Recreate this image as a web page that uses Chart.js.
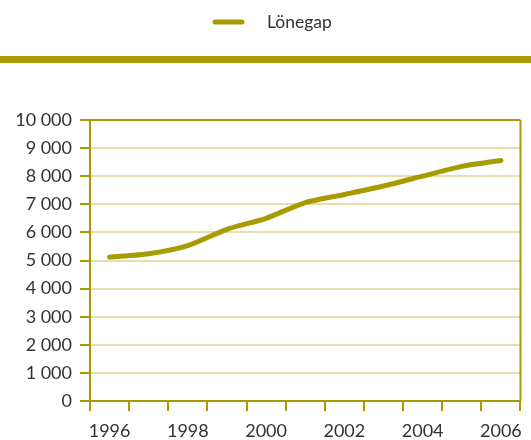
<!DOCTYPE html>
<html>
<head>
<meta charset="utf-8">
<script src="https://cdn.jsdelivr.net/npm/chart.js@4/dist/chart.umd.min.js"></script>
<style>
  html, body { margin: 0; padding: 0; background: #fff; }
  #wrap { width: 531px; height: 440px; }
</style>
</head>
<body>
<div id="wrap"><canvas id="c" width="531" height="440"></canvas></div>
<script>
const years = ['1996','1997','1998','1999','2000','2001','2002','2003','2004','2005','2006'];
const lonegap = [5120, 5240, 5530, 6110, 6500, 7060, 7350, 7650, 8000, 8350, 8560];
const seriesName = 'Lönegap';
const yTicks = [0,1000,2000,3000,4000,5000,6000,7000,8000,9000,10000];

const OLIVE = 'rgb(168,155,0)';
const LIGHT = 'rgb(230,222,174)';
const TEXT = '#333333';
const FONT = 'Lato';

const decor = {
  id: 'decor',
  beforeDraw(chart) {
    const ctx = chart.ctx;
    ctx.save();
    ctx.fillStyle = OLIVE;
    ctx.fillRect(0, 56, chart.width, 7);
    // legend
    ctx.strokeStyle = OLIVE;
    ctx.lineWidth = 5;
    ctx.lineCap = 'round';
    ctx.beginPath();
    ctx.moveTo(215, 22);
    ctx.lineTo(242, 22);
    ctx.stroke();
    ctx.fillStyle = TEXT;
    ctx.font = '17.5px ' + FONT;
    ctx.textBaseline = 'middle';
    ctx.textAlign = 'left';
    ctx.fillText(seriesName, 267, 22);
    ctx.restore();
  },
  afterDraw(chart) {
    const a = chart.chartArea;
    const ctx = chart.ctx;
    ctx.save();
    ctx.strokeStyle = OLIVE;
    ctx.lineWidth = 2;
    ctx.beginPath();
    ctx.moveTo(a.right, a.top);
    ctx.lineTo(a.right, a.bottom);
    ctx.stroke();
    ctx.restore();
  }
};

new Chart(document.getElementById('c'), {
  type: 'line',
  data: {
    labels: years,
    datasets: [{
      label: seriesName,
      data: lonegap,
      borderColor: OLIVE,
      backgroundColor: OLIVE,
      borderWidth: 5,
      borderCapStyle: 'round',
      borderJoinStyle: 'round',
      pointRadius: 0,
      tension: 0.25,
      fill: false
    }]
  },
  options: {
    responsive: false,
    animation: false,
    devicePixelRatio: 1,
    layout: { padding: { top: 120, left: 0, right: 5, bottom: 0 } },
    plugins: { legend: { display: false }, tooltip: { enabled: false } },
    scales: {
      x: {
        type: 'category',
        offset: true,
        afterFit(s) { s.height = 39; },
        grid: { offset: true, drawOnChartArea: false, color: OLIVE, tickColor: OLIVE, lineWidth: 2, tickLength: 10 },
        border: { display: true, color: OLIVE, width: 2 },
        ticks: {
          autoSkip: false, maxRotation: 0, padding: 9,
          color: TEXT, font: { family: FONT, size: 18 },
          callback(v, i) { return i % 2 === 0 ? years[i] : ''; }
        }
      },
      y: {
        min: 0, max: 10000,
        afterFit(s) { s.width = 90; },
        afterBuildTicks(s) { s.ticks = yTicks.map(v => ({ value: v })); },
        grid: {
          color: ctx => (ctx.tick && ctx.tick.value === 10000) ? OLIVE : LIGHT,
          tickColor: OLIVE, lineWidth: 2, tickLength: 10
        },
        border: { display: true, color: OLIVE, width: 2 },
        ticks: {
          padding: 8, color: TEXT, font: { family: FONT, size: 18 },
          callback(v) { return v === 0 ? '0' : String(v).replace(/\B(?=(\d{3})+(?!\d))/g, ' '); }
        }
      }
    }
  },
  plugins: [decor]
});
</script>
</body>
</html>
